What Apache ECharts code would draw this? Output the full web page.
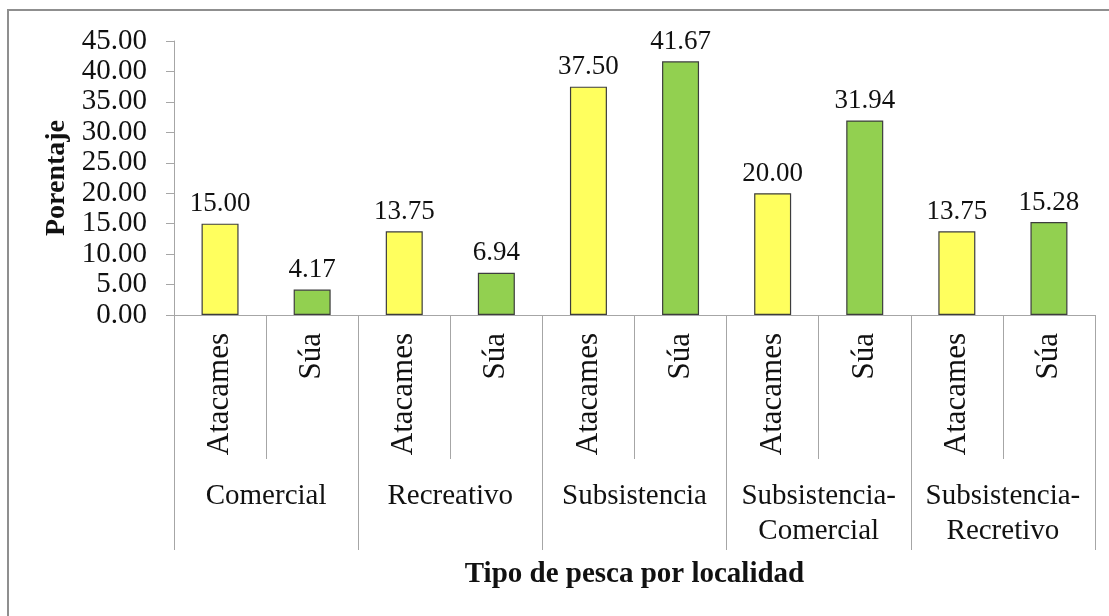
<!DOCTYPE html>
<html>
<head>
<meta charset="utf-8">
<script src="https://cdn.jsdelivr.net/npm/echarts@6/dist/echarts.min.js"></script>
<style>
  html, body { margin: 0; padding: 0; background: #ffffff; }
  #chart { width: 1109px; height: 616px; }
</style>
</head>
<body>
<div id="chart"></div>
<script>
// Fishing type groups and the two localities inside each group
const groups = ['Comercial', 'Recreativo', 'Subsistencia', 'Subsistencia-\nComercial', 'Subsistencia-\nRecretivo'];
const localities = ['Atacames', 'Súa'];

// Percentages per locality, in group order
const atacames = [15.00, 13.75, 37.50, 20.00, 13.75];
const sua = [4.17, 6.94, 41.67, 31.94, 15.28];

// Value axis range
const yMin = 0;
const yMax = 45;
const yStep = 5;

const serif = "'Liberation Serif', 'Times New Roman', serif";
const colorAtacames = '#FFFF5E';
const colorSua = '#92D050';
const gridLine = '#a6a6a6';

// Interleave the two localities into one category sequence
const categories = [];
const barData = [];
groups.forEach(function (g, i) {
  categories.push(localities[0]);
  barData.push({ value: atacames[i], itemStyle: { color: colorAtacames } });
  categories.push(localities[1]);
  barData.push({ value: sua[i], itemStyle: { color: colorSua } });
});

const chart = echarts.init(document.getElementById('chart'), null, { renderer: 'canvas' });

chart.setOption({
  backgroundColor: '#ffffff',
  animation: false,
  graphic: [{
    type: 'rect',
    shape: { x: 8, y: 10, width: 1300, height: 800 },
    style: { fill: 'none', stroke: '#8f8f8f', lineWidth: 2 },
    silent: true,
    z: -1
  }],
  grid: { left: 174, right: 14, top: 41, bottom: 301, containLabel: false },
  xAxis: [{
    type: 'category',
    data: categories,
    boundaryGap: true,
    axisLine: { show: true, lineStyle: { color: gridLine, width: 1 } },
    axisTick: { show: true, interval: 0, length: 144, lineStyle: { color: gridLine, width: 1 } },
    axisLabel: {
      interval: 0,
      rotate: 90,
      margin: 18,
      fontFamily: serif,
      fontSize: 31,
      color: '#111'
    },
    splitLine: { show: false }
  }, {
    type: 'category',
    data: groups,
    position: 'bottom',
    boundaryGap: true,
    axisLine: { show: false },
    axisTick: { show: true, interval: 0, length: 235, lineStyle: { color: gridLine, width: 1 } },
    axisLabel: {
      interval: 0,
      margin: 164,
      fontFamily: serif,
      fontSize: 29,
      lineHeight: 35,
      color: '#111'
    },
    name: 'Tipo de pesca por localidad',
    nameLocation: 'middle',
    nameGap: 245,
    nameTextStyle: { fontFamily: serif, fontSize: 29, fontWeight: 'bold', color: '#111' },
    splitLine: { show: false }
  }],
  yAxis: {
    type: 'value',
    min: yMin,
    max: yMax,
    interval: yStep,
    name: 'Porentaje',
    nameLocation: 'middle',
    nameRotate: 90,
    nameGap: 101,
    nameTextStyle: { fontFamily: serif, fontSize: 28, fontWeight: 'bold', color: '#111' },
    axisLine: { show: true, lineStyle: { color: gridLine, width: 1 } },
    axisTick: { show: true, length: 8, lineStyle: { color: gridLine, width: 1 } },
    axisLabel: {
      margin: 27,
      fontFamily: serif,
      fontSize: 29,
      color: '#111',
      formatter: function (v) { return v.toFixed(2); }
    },
    splitLine: { show: false }
  },
  series: [{
    type: 'bar',
    xAxisIndex: 0,
    yAxisIndex: 0,
    data: barData,
    barWidth: 37,
    itemStyle: { borderColor: '#3d3d3d', borderWidth: 1.2 },
    label: {
      show: true,
      position: 'top',
      distance: 6,
      fontFamily: serif,
      fontSize: 27,
      color: '#111',
      formatter: function (p) { return p.value.toFixed(2); }
    }
  }]
});
</script>
</body>
</html>
